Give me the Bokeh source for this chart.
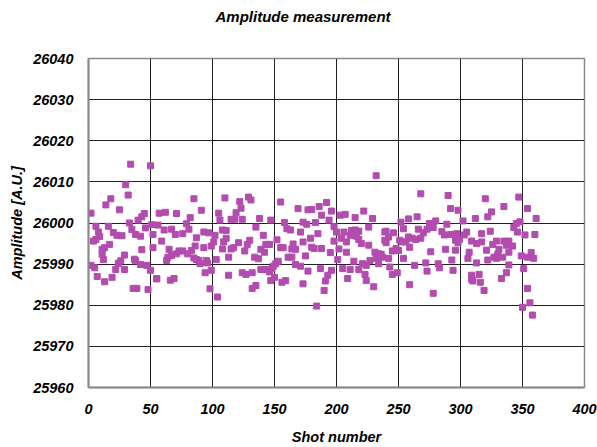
from bokeh.plotting import figure
from bokeh.models import FixedTicker, Range1d, ColumnDataSource
from bokeh.embed import file_html
from bokeh.resources import INLINE

# ---- data (shot number, amplitude) ----
shots_a = [34,50,30,32,18,14,25,2,45,43, 40,33,6,16,35,46,51,8,20,23,
           27,38,42,52,9,6,4,17,13,11, 43,52,11,12,29,26,24,37,38,42,
           47,2,5,22,29,50,7,19,55,13, 36,39,48]
amps_a = [26014.3,26013.9,26009.3,26006.8,26005.9,26004.4,26003.2,26002.4,26002.3,26001.5,
          26000.7,26000.0,25999.2,25999.2,25998.4,25998.8,25999.6,25997.8,25997.7,25997.0,
          25996.9,25997.2,25996.8,25997.2,25996.7,25996.0,25995.6,25994.8,25994.0,25993.6,
          25993.5,25994.0,25992.4,25991.1,25992.2,25990.8,25990.2,25991.2,25990.8,25989.9,
          25989.7,25989.7,25989.1,25988.7,25988.7,25988.5,25987.0,25986.8,25986.4,25985.7,
          25984.1,25984.1,25983.8]

shots_b = [85,110,91,57,62,71,82,105,106,115, 56,79,61,67,70,76,81,93,97,102,
           108,111,87,59,111,109,101,99,86,83, 93,108,115,65,73,76,71,67,80,64,
           85,87,89,95,96,90,103,113,63,99, 94,113,55,66,69,98,104]
amps_b = [26005.9,26006.1,26003.1,26002.4,26002.6,26002.3,26001.3,26002.4,26000.7,26000.9,
          25999.5,25999.8,25998.3,25998.5,25997.2,25997.4,25998.5,25997.8,25997.6,25997.0,
          25998.3,25998.2,25996.4,25995.6,25996.3,25995.4,25995.4,25994.4,25994.4,25993.3,
          25994.0,25993.7,25993.7,25993.6,25993.2,25993.2,25992.5,25992.1,25992.5,25991.7,
          25991.5,25991.1,25990.9,25990.9,25990.3,25990.1,25991.1,25991.7,25990.9,25988.5,
          25987.9,25987.3,25986.5,25986.1,25986.5,25984.0,25982.0]

shots_c = [129,131,122,155,169,177,123,119,118,124, 138,147,158,173,176,135,160,163,171,141,
           152,130,128,121,117,143,146,165,173,139, 142,155,157,164,167,126,175,134,137,161,
           164,153,151,167,171,149,148,139,143,146, 177,124,127,132,150,147,156,159,173,135,
           132]
amps_c = [26006.3,26005.6,26005.2,26005.1,26003.5,26003.2,26003.6,26002.5,26000.9,26000.9,
          26001.1,26000.7,26000.1,26000.2,25999.7,25999.0,25998.6,25998.3,25997.8,25997.0,
          25995.9,25995.8,25994.8,25995.2,25994.0,25994.8,25994.8,25994.9,25995.4,25993.6,
          25992.9,25994.0,25994.0,25993.7,25993.6,25993.2,25992.0,25991.7,25991.3,25991.7,
          25991.7,25990.7,25990.1,25989.9,25989.5,25989.5,25988.9,25988.7,25988.7,25988.1,
          25988.3,25987.9,25987.5,25987.9,25986.8,25986.0,25985.6,25986.0,25985.2,25984.8,
          25984.1]

shots_d = [232,192,186,180,196,188,203,207,222,215, 229,194,183,198,226,239,185,200,206,212,
           215,218,211,216,204,208,179,198,218,220, 226,180,182,188,202,195,208,231,234,237,
           232,234,201,214,221,224,227,187,196,205, 211,218,193,191,223,224,209,190,230,184]
amps_d = [26011.5,26005.0,26004.0,26003.3,26002.9,26001.9,26001.9,26002.1,26002.9,26001.3,
          26001.1,26000.7,26000.1,25999.1,25999.0,25997.8,25997.4,25997.8,25997.8,25998.2,
          25998.3,25998.0,25997.0,25996.8,25996.3,25995.4,25996.3,25995.6,25996.0,25995.0,
          25994.6,25994.1,25993.8,25993.8,25993.7,25992.8,25992.9,25992.9,25992.5,25991.7,
          25991.4,25990.1,25991.1,25990.7,25990.1,25989.7,25990.9,25988.9,25988.5,25988.9,
          25988.7,25988.7,25987.3,25985.9,25987.5,25986.0,25986.5,25983.6,25984.5,25979.8]

shots_e = [268,290,292,298,258,265,252,275,280,278, 289,254,266,240,246,242,270,273,285,287,
           292,297,258,261,264,268,239,240,251,253, 256,296,248,250,259,245,276,288,296,236,
           242,254,293,272,282,263,243,283,273,294, 245,249,259,278]
amps_e = [26007.1,26006.7,26003.5,26003.1,26001.0,26001.5,26000.2,25999.9,26000.5,25998.9,
          25999.7,25998.6,25998.5,25998.0,25997.6,25996.6,25997.6,25998.5,25997.9,25997.1,
          25997.2,25997.4,25996.6,25996.3,25996.0,25996.3,25995.8,25995.2,25995.8,25995.4,
          25995.4,25995.8,25993.8,25993.3,25994.1,25993.2,25993.0,25993.6,25993.4,25992.4,
          25991.4,25991.4,25991.0,25990.3,25990.1,25989.7,25989.3,25989.1,25988.3,25988.5,
          25987.5,25987.9,25985.0,25982.9]

shots_f = [320,347,335,354,325,322,312,361,302,348, 345,343,324,346,305,303,299,317,352,360,
           298,309,313,317,326,329,335,339,342,337, 321,331,307,339,330,334,327,329,349,354,
           357,359,306,322,313,339,351,337,309,315, 309,310,316,333,319,354,356,350,358]
amps_f = [26005.9,26006.3,26004.0,26003.5,26002.7,26001.5,26001.1,26001.1,26000.5,26000.3,
          25999.9,25998.9,25998.0,25997.8,25997.8,25997.1,25996.0,25997.4,25997.1,25997.2,
          25995.2,25995.6,25995.0,25995.4,25994.8,25995.6,25995.6,25995.6,25994.4,25994.6,
          25993.4,25993.6,25992.9,25992.9,25992.4,25991.7,25991.7,25991.4,25992.0,25991.7,
          25992.8,25991.4,25991.4,25991.0,25990.3,25989.8,25988.9,25987.9,25987.3,25987.5,
          25986.3,25985.9,25985.6,25986.5,25983.6,25984.1,25980.6,25979.5,25977.6]

x_ticks = [0, 50, 100, 150, 200, 250, 300, 350, 400]
y_ticks = [25960, 25970, 25980, 25990, 26000, 26010, 26020, 26030, 26040]
title_text = "Amplitude measurement"

shots = shots_a + shots_b + shots_c + shots_d + shots_e + shots_f
amps = amps_a + amps_b + amps_c + amps_d + amps_e + amps_f
src = ColumnDataSource(dict(shot=shots, amp=amps))

FONT = "Liberation Sans"

p = figure(width=597, height=447, output_backend="svg", toolbar_location=None,
           x_range=Range1d(0, 400), y_range=Range1d(25960, 26040),
           min_border_left=88, min_border_right=13, min_border_top=58, min_border_bottom=60,
           title=title_text + "\n\n")
p.background_fill_color = "white"
p.border_fill_color = "white"
p.outline_line_color = "#8a8a8a"
p.outline_line_width = 1.5

p.title.text_font = FONT
p.title.text_font_style = "bold italic"
p.title.text_font_size = "15px"
p.title.align = "left"
p.title.offset = 127
p.title.standoff = 0
p.title.text_color = "#000000"

p.scatter("shot", "amp", source=src, marker="square", size=6,
          fill_color="#B24CAE", line_color="#B24CAE")

p.xaxis.ticker = FixedTicker(ticks=x_ticks)
p.yaxis.ticker = FixedTicker(ticks=y_ticks)
for ax in (p.xaxis[0], p.yaxis[0]):
    ax.major_label_text_font = FONT
    ax.major_label_text_font_style = "bold italic"
    ax.major_label_text_font_size = "14.5px"
    ax.major_label_text_color = "#000000"
    ax.axis_label_text_font = FONT
    ax.axis_label_text_font_style = "bold italic"
    ax.axis_label_text_font_size = "14.5px"
    ax.axis_label_text_color = "#000000"
    ax.axis_line_color = "#8a8a8a"
    ax.axis_line_width = 2
    ax.major_tick_line_color = None
    ax.major_tick_out = 0
    ax.major_tick_in = 0
    ax.minor_tick_line_color = None

p.xaxis.axis_label = "Shot number"
p.yaxis.axis_label = "Amplitude [A.U.]"
p.xaxis.major_label_standoff = 16
p.yaxis.major_label_standoff = 15
p.xaxis.axis_label_standoff = 12
p.yaxis.axis_label_standoff = 5

p.xgrid.grid_line_color = "#222222"
p.ygrid.grid_line_color = "#222222"
p.xgrid.grid_line_width = 1
p.ygrid.grid_line_width = 1

open("out.html", "w").write(file_html(p, INLINE))
